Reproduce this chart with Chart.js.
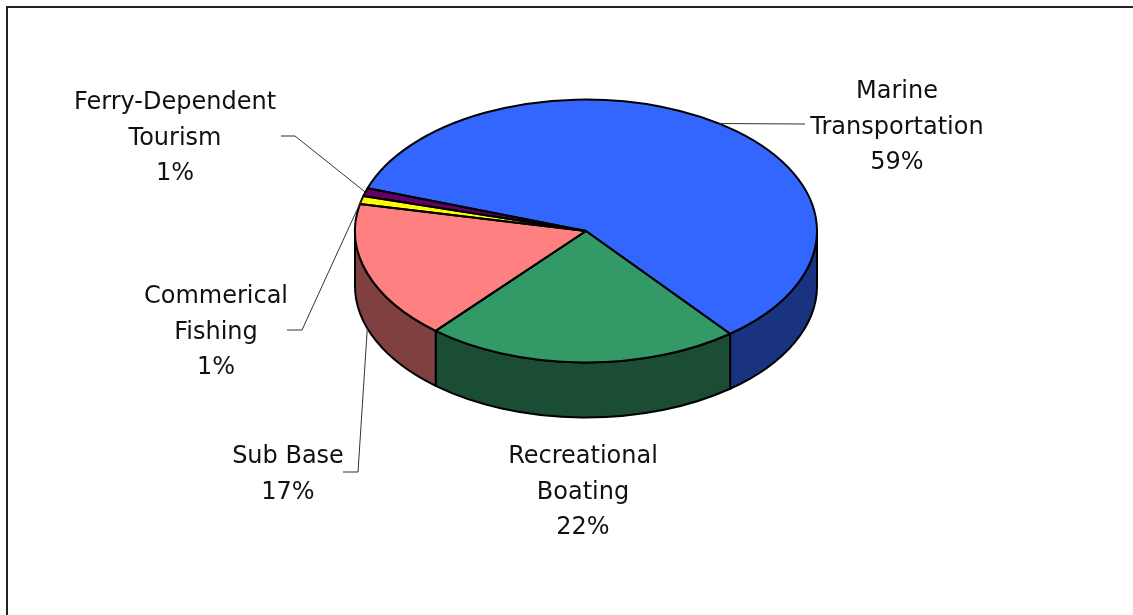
<!DOCTYPE html>
<html>
<head>
<meta charset="utf-8">
<title>Sector Shares</title>
<script src="https://cdn.jsdelivr.net/npm/chart.js@4.4.0/dist/chart.umd.min.js"></script>
<style>
  html, body { margin: 0; padding: 0; background: #fff; }
  #wrap { width: 1133px; height: 615px; position: relative; }
</style>
</head>
<body>
<div id="wrap"><canvas id="sectorChart"></canvas></div>
<script>
// Share of each sector, in percent
const sectors = ['Marine Transportation', 'Recreational Boating', 'Sub Base', 'Commerical Fishing', 'Ferry-Dependent Tourism'];
const shares = [59, 22, 17, 1, 1];
const sliceColors = ['#3366FF', '#339966', '#FF8080', '#FFFF00', '#660066'];

// Label text broken into lines (percent line is added when drawing)
const labelLines = [
    ['Marine', 'Transportation'],
    ['Recreational', 'Boating'],
    ['Sub Base'],
    ['Commerical', 'Fishing'],
    ['Ferry-Dependent', 'Tourism']
];

// Where each label block goes, and the elbow of its leader line
const labelLayout = [
    { x: 897, y: 98, leader: [[805, 124]], anchor: 'top' },
    { x: 583, y: 463, leader: null },
    { x: 288, y: 463, leader: [[343, 472], [358, 472]], anchor: 'bottom' },
    { x: 216, y: 303, leader: [[287, 330], [302, 330]], anchor: 'top' },
    { x: 175, y: 109, leader: [[281, 136], [295, 136]], anchor: 'top' }
];

// Tilted pie: ellipse for the top face plus the thickness of the disc
const pie = { cx: 586, cy: 231, rx: 231, ry: 131.5, depth: 55 };

function shade(hex, f) {
    const n = parseInt(hex.slice(1), 16);
    const r = Math.round(((n >> 16) & 255) * f);
    const g = Math.round(((n >> 8) & 255) * f);
    const b = Math.round((n & 255) * f);
    return `rgb(${r}, ${g}, ${b})`;
}

function ellipsePoint(a, dy) {
    return { x: pie.cx + pie.rx * Math.cos(a), y: pie.cy + (dy || 0) + pie.ry * Math.sin(a) };
}

const pie3d = {
    id: 'pie3d',
    beforeDraw(chart) {
        // outer frame
        const ctx = chart.ctx;
        ctx.save();
        ctx.strokeStyle = '#222';
        ctx.lineWidth = 2;
        ctx.strokeRect(7, 7, 1400, 900);
        ctx.restore();
    },
    beforeDatasetsDraw(chart) {
        const ctx = chart.ctx;
        const arcs = chart.getDatasetMeta(0).data;
        const TAU = Math.PI * 2;

        // front walls of the disc, only the half facing the viewer
        ctx.save();
        ctx.lineWidth = 2;
        ctx.strokeStyle = '#000';
        ctx.lineJoin = 'round';
        arcs.forEach((arc, i) => {
            const shift = Math.floor(arc.startAngle / TAU) * TAU;
            const s = arc.startAngle - shift;
            const e = arc.endAngle - shift;
            [[0, Math.PI], [TAU, TAU + Math.PI]].forEach(([lo, hi]) => {
                const a0 = Math.max(s, lo);
                const a1 = Math.min(e, hi);
                if (a1 <= a0) return;
                ctx.beginPath();
                ctx.ellipse(pie.cx, pie.cy, pie.rx, pie.ry, 0, a0, a1);
                ctx.ellipse(pie.cx, pie.cy + pie.depth, pie.rx, pie.ry, 0, a1, a0, true);
                ctx.closePath();
                ctx.fillStyle = shade(sliceColors[i], 0.5);
                ctx.fill();
                ctx.stroke();
            });
        });
        ctx.restore();

        // squash the circular pie into the top ellipse
        const a = arcs[0];
        ctx.save();
        ctx.translate(pie.cx, pie.cy);
        ctx.scale(pie.rx / a.outerRadius, pie.ry / a.outerRadius);
        ctx.translate(-a.x, -a.y);
    },
    afterDatasetsDraw(chart) {
        const ctx = chart.ctx;
        const arcs = chart.getDatasetMeta(0).data;
        ctx.restore();

        // outlines of the top faces
        ctx.save();
        ctx.lineWidth = 2;
        ctx.strokeStyle = '#000';
        ctx.lineJoin = 'round';
        arcs.forEach(arc => {
            const p = ellipsePoint(arc.startAngle);
            ctx.beginPath();
            ctx.moveTo(pie.cx, pie.cy);
            ctx.lineTo(p.x, p.y);
            ctx.ellipse(pie.cx, pie.cy, pie.rx, pie.ry, 0, arc.startAngle, arc.endAngle);
            ctx.closePath();
            ctx.stroke();
        });
        ctx.restore();

        // labels with leader lines
        ctx.save();
        ctx.font = '24px "DejaVu Sans"';
        ctx.fillStyle = '#111';
        ctx.textAlign = 'center';
        ctx.textBaseline = 'alphabetic';
        ctx.strokeStyle = '#333';
        ctx.lineWidth = 1;
        labelLayout.forEach((lay, i) => {
            const lines = labelLines[i].concat(shares[i] + '%');
            lines.forEach((t, k) => ctx.fillText(t, lay.x, lay.y + k * 35.5));
            if (!lay.leader) return;
            const arc = arcs[i];
            const mid = (arc.startAngle + arc.endAngle) / 2;
            const end = ellipsePoint(mid, lay.anchor === 'bottom' ? pie.depth : 0);
            ctx.beginPath();
            ctx.moveTo(lay.leader[0][0], lay.leader[0][1]);
            lay.leader.slice(1).forEach(pt => ctx.lineTo(pt[0], pt[1]));
            ctx.lineTo(end.x, end.y);
            ctx.stroke();
        });
        ctx.restore();
    }
};

new Chart(document.getElementById('sectorChart'), {
    type: 'pie',
    data: {
        labels: sectors,
        datasets: [{
            data: shares,
            backgroundColor: sliceColors,
            borderWidth: 0,
            hoverOffset: 0
        }]
    },
    options: {
        responsive: true,
        maintainAspectRatio: false,
        animation: false,
        events: [],
        rotation: -71,
        plugins: {
            legend: { display: false },
            tooltip: { enabled: false }
        }
    },
    plugins: [pie3d]
});
</script>
</body>
</html>
